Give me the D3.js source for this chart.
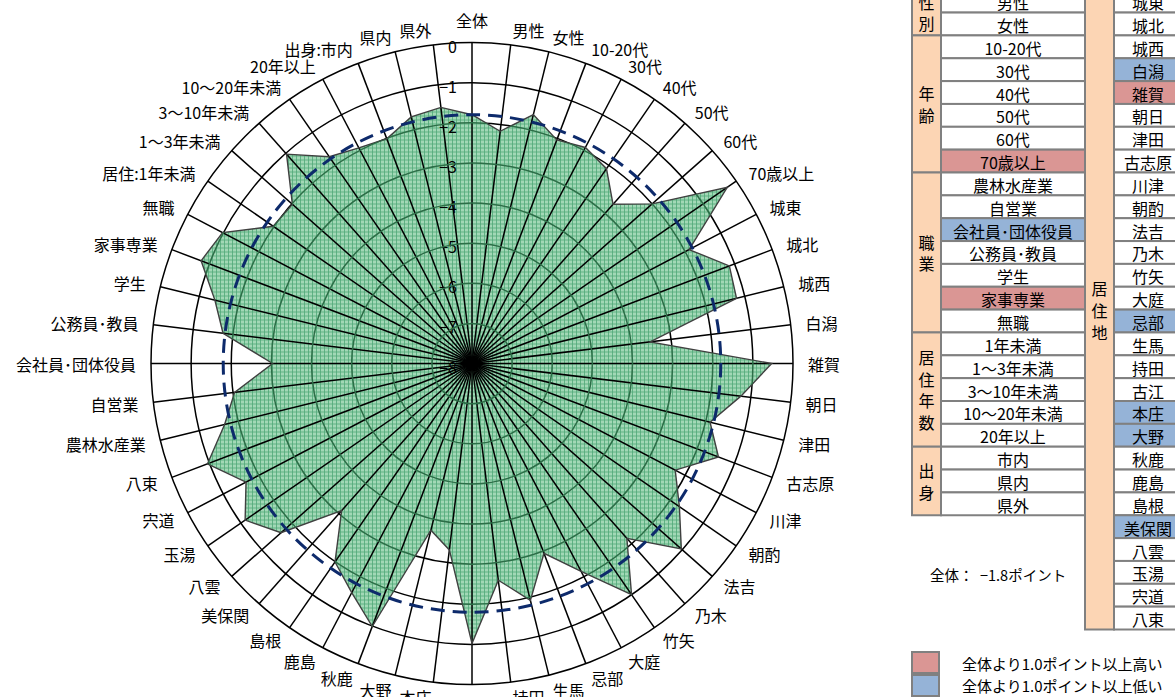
<!DOCTYPE html>
<html><head><meta charset="utf-8">
<script src="https://cdn.jsdelivr.net/npm/d3@7"></script>
<style>
body{margin:0;background:#fff;}
svg{display:block;font-family:"Noto Sans CJK JP","Noto Sans",sans-serif;}
</style></head><body>
<svg id="c" width="1175" height="697"></svg>
<script>
// ---------- data ----------
const categories = ["全体","男性","女性","10-20代","30代","40代","50代","60代","70歳以上",
 "城東","城北","城西","白潟","雑賀","朝日","津田","古志原","川津","朝酌","法吉","乃木","竹矢","大庭","忌部","生馬","持田","古江","本庄","大野","秋鹿","鹿島","島根","美保関","八雲","玉湯","宍道","八束",
 "農林水産業","自営業","会社員･団体役員","公務員･教員","学生","家事専業","無職",
 "居住:1年未満","1～3年未満","3～10年未満","10～20年未満","20年以上","出身:市内","県内","県外"];
const values = [-1.8,-2.17,-1.61,-2.04,-1.92,-2.1,-2.7,-2.0,-0.27,
 -1.89,-1.14,-1.21,-3.53,-0.53,-1.25,-1.89,-1.43,-2.28,-1.72,-1.03,-2.18,-1.0,-2.15,-2.94,-1.92,-2.56,-1.02,-3.32,-3.72,-0.99,-1.55,-1.99,-3.1,-1.64,-1.13,-1.64,-0.95,
 -1.65,-2.04,-3.03,-1.75,-1.4,-0.78,-0.98,
 -1.98,-2.02,-1.03,-1.74,-1.93,-2.01,-1.67,-1.57];
const overall = -1.8;
const radialTicks = [0,-1,-2,-3,-4,-5,-6,-7,-8];

const leftGroupNames = ["性別","年齢","職業","居住年数","出身"];
const leftGroupSizes = [2,6,7,5,3];
const leftItems = ["男性","女性","10-20代","30代","40代","50代","60代","70歳以上",
 "農林水産業","自営業","会社員･団体役員","公務員･教員","学生","家事専業","無職",
 "1年未満","1～3年未満","3～10年未満","10～20年未満","20年以上","市内","県内","県外"];
const rightGroupName = "居住地";
const rightItems = ["城東","城北","城西","白潟","雑賀","朝日","津田","古志原","川津","朝酌","法吉","乃木","竹矢","大庭","忌部","生馬","持田","古江","本庄","大野","秋鹿","鹿島","島根","美保関","八雲","玉湯","宍道","八束"];
const highItems = ["70歳以上","家事専業","雑賀"];
const lowItems = ["会社員･団体役員","白潟","忌部","本庄","大野","美保関"];
const legendLabels = ["全体より1.0ポイント以上高い","全体より1.0ポイント以上低い"];

// ---------- layout ----------
const svg = d3.select("#c");
const cx = 472, cy = 363.5, R = 321;
const n = categories.length;
const rScale = d3.scaleLinear().domain([-8,0]).range([0,R]);
const aScale = d3.scaleLinear().domain([0,n]).range([0,2*Math.PI]);
const C_HIGH = "#da9694", C_LOW = "#95b3d7", C_PEACH = "#fcd5b4", C_BORDER = "#808080";

const defs = svg.append("defs");
const pat = defs.append("pattern").attr("id","grid").attr("patternUnits","userSpaceOnUse")
  .attr("width",4).attr("height",4);
pat.append("rect").attr("width",4).attr("height",4).attr("fill","#a2d8b6");
pat.append("path").attr("d","M0,0.5H4M0.5,0V4").attr("stroke","#4fa877").attr("stroke-width",0.8).attr("fill","none");

const g = svg.append("g").attr("transform",`translate(${cx},${cy})`);

// rings
const ringVals = radialTicks.filter(v=>v>-8);
g.append("g").selectAll("circle").data(ringVals).join("circle")
  .attr("r",d=>rScale(d)).attr("fill","none").attr("stroke","#000").attr("stroke-width",1.5);

// polygon
const radial = d3.lineRadial().angle((d,i)=>aScale(i)).radius(d=>rScale(d)).curve(d3.curveLinearClosed);
const polyPath = radial(values);
defs.append("clipPath").attr("id","polyclip").append("path").attr("d",polyPath).attr("transform",`translate(${cx},${cy})`);
g.append("path").attr("d",polyPath).attr("fill","url(#grid)");
svg.append("g").attr("clip-path","url(#polyclip)").append("g").attr("transform",`translate(${cx},${cy})`)
  .selectAll("circle").data(ringVals.filter(v=>v<0)).join("circle")
  .attr("r",d=>rScale(d)).attr("fill","none").attr("stroke","#2c6e47").attr("stroke-width",1.5);

// spokes
g.append("g").selectAll("line").data(categories).join("line")
  .attr("x1",0).attr("y1",0)
  .attr("x2",(d,i)=>R*Math.sin(aScale(i))).attr("y2",(d,i)=>-R*Math.cos(aScale(i)))
  .attr("stroke","#000").attr("stroke-width",1.5);

// outline
g.append("path").attr("d",polyPath).attr("fill","none").attr("stroke","#404040").attr("stroke-width",1.4);

// overall dashed circle
g.append("circle").attr("r",rScale(overall)).attr("fill","none").attr("stroke","#0d2a6b")
  .attr("stroke-width",3).attr("stroke-dasharray","14,8");

// tick labels
const fmt = d3.format("d");
g.append("g").selectAll("text").data(radialTicks).join("text")
  .attr("x",-15).attr("y",d=>-rScale(d)+3)
  .attr("text-anchor","end").attr("dominant-baseline","central")
  .attr("font-size",16).attr("fill","#000").text(d=>fmt(d));

// category labels
const LR = R + 15;
g.append("g").selectAll("text").data(categories).join("text")
  .each(function(d,i){
    const a = aScale(i), s = Math.sin(a), c = Math.cos(a);
    const px = LR*s, py = -LR*c;
    const t = d3.select(this);
    if (Math.abs(s) < 1e-6){
      t.attr("x",px).attr("y", py + (c>0?-8:8)).attr("text-anchor","middle");
    } else {
      t.attr("x",px).attr("y",py).attr("text-anchor", s>0?"start":"end");
    }
  })
  .attr("dominant-baseline","central").attr("font-size",16).attr("fill","#000").text(d=>d);

// ---------- table ----------
const top0 = -10.3, rowH = 22.85;
const xG = 912, wG = 29, xI = 941, wI = 144, xM = 1085, wM = 29, xR = 1114, wR = 70;
const tbl = svg.append("g").attr("font-size",16);
function fillFor(name){ return highItems.includes(name)?C_HIGH:(lowItems.includes(name)?C_LOW:"#fff"); }
let start = 0;
leftGroupNames.forEach((name,gi)=>{
  const size = leftGroupSizes[gi];
  const y0 = top0 + start*rowH, h = size*rowH;
  tbl.append("rect").attr("x",xG).attr("y",y0).attr("width",wG).attr("height",h)
    .attr("fill",C_PEACH).attr("stroke",C_BORDER).attr("stroke-width",2);
  const chars = Array.from(name), lh = 21.5;
  const ymid = y0 + h/2;
  chars.forEach((ch,k)=>{
    tbl.append("text").attr("x",xG+wG/2).attr("y",ymid + (k-(chars.length-1)/2)*lh)
      .attr("text-anchor","middle").attr("dominant-baseline","central").text(ch);
  });
  start += size;
});
tbl.append("g").selectAll("rect").data(leftItems).join("rect")
  .attr("x",xI).attr("y",(d,i)=>top0+i*rowH).attr("width",wI).attr("height",rowH)
  .attr("fill",d=>fillFor(d)).attr("stroke",C_BORDER).attr("stroke-width",2);
tbl.append("g").selectAll("text").data(leftItems).join("text")
  .attr("x",xI+wI/2).attr("y",(d,i)=>top0+(i+0.5)*rowH+1)
  .attr("text-anchor","middle").attr("dominant-baseline","central").text(d=>d);
const hM = rightItems.length*rowH;
tbl.append("rect").attr("x",xM).attr("y",top0).attr("width",wM).attr("height",hM)
  .attr("fill",C_PEACH).attr("stroke",C_BORDER).attr("stroke-width",2);
Array.from(rightGroupName).forEach((ch,k,arr)=>{
  tbl.append("text").attr("x",xM+wM/2).attr("y",top0+hM/2+(k-(arr.length-1)/2)*22)
    .attr("text-anchor","middle").attr("dominant-baseline","central").text(ch);
});
tbl.append("g").selectAll("rect").data(rightItems).join("rect")
  .attr("x",xR).attr("y",(d,i)=>top0+i*rowH).attr("width",wR).attr("height",rowH)
  .attr("fill",d=>fillFor(d)).attr("stroke",C_BORDER).attr("stroke-width",2);
tbl.append("g").selectAll("text").data(rightItems).join("text")
  .attr("x",xR+34).attr("y",(d,i)=>top0+(i+0.5)*rowH+1)
  .attr("text-anchor","middle").attr("dominant-baseline","central").text(d=>d);

// overall note
svg.append("text").attr("x",930).attr("y",574).attr("font-size",14.5).attr("dominant-baseline","central")
  .style("white-space","pre").text("全体：  " + fmt(overall*10).replace(/(\d)$/,".$1") + "ポイント");

// legend
const lg = svg.append("g");
[C_HIGH,C_LOW].forEach((col,i)=>{
  lg.append("rect").attr("x",912).attr("y",652+i*23).attr("width",27).attr("height",21)
    .attr("fill",col).attr("stroke",C_BORDER).attr("stroke-width",2);
  lg.append("text").attr("x",962).attr("y",663+i*22.5).attr("font-size",15)
    .attr("dominant-baseline","central").text(legendLabels[i]);
});
</script>
</body></html>
